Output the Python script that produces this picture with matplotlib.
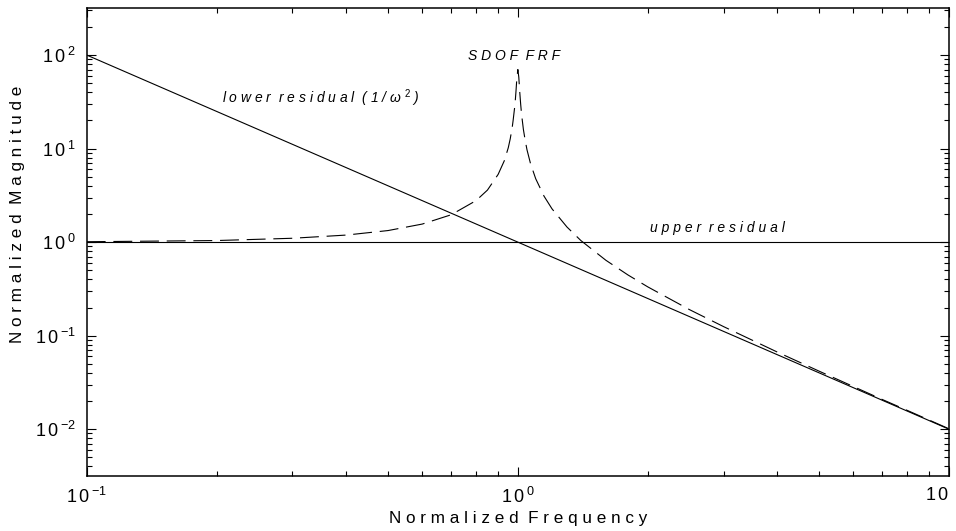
import matplotlib
matplotlib.use("Agg")
import matplotlib.pyplot as plt
from matplotlib.ticker import NullFormatter

plt.rcParams["font.family"] = ["Liberation Sans", "DejaVu Sans"]
plt.rcParams["mathtext.fontset"] = "custom"
plt.rcParams["mathtext.rm"] = "Liberation Sans"
plt.rcParams["mathtext.it"] = "Liberation Sans:italic"
plt.rcParams["mathtext.bf"] = "Liberation Sans:bold"

# SDOF FRF (dashed)
sdof_freq = [0.1, 0.2, 0.3, 0.4, 0.5, 0.6, 0.7, 0.8, 0.85, 0.9, 0.93, 0.95, 0.96,
             0.97, 0.975, 0.98, 0.985, 0.99, 0.995, 1.0, 1.005, 1.01, 1.015, 1.02,
             1.03, 1.04, 1.05, 1.07, 1.1, 1.15, 1.2, 1.3, 1.4, 1.6, 1.8, 2.0, 2.5,
             3.0, 4.0, 5.0, 6.0, 7.0, 8.0, 10.0]
sdof_mag = [1.01, 1.04, 1.10, 1.19, 1.33, 1.56, 1.96, 2.78, 3.6, 5.3, 7.4, 10.2, 12.7,
            16.7, 20.0, 24.5, 30.0, 41.0, 58.0, 70.0, 58.0, 40.5, 30.0, 23.2,
            16.0, 12.2, 9.7, 6.9, 4.76, 3.1, 2.27, 1.45, 1.04, 0.64, 0.446, 0.333, 0.19,
            0.125, 0.0667, 0.0417, 0.0286, 0.0208, 0.0159, 0.0101]

# residual lines
lower_freq = [0.1, 1.0, 10.0]
lower_mag = [100.0, 1.0, 0.01]
upper_freq = [0.1, 10.0]
upper_mag = [1.0, 1.0]

x_ticks = [0.1, 1.0, 10.0]
x_tick_labels = [r"$\mathregular{{1\,0\,}^{-1}}$", r"$\mathregular{{1\,0\,}^{0}}$",
                 r"$\mathregular{1\,0}$"]
y_ticks = [0.01, 0.1, 1.0, 10.0, 100.0]
y_tick_labels = [r"$\mathregular{{1\,0\,}^{-2}}$", r"$\mathregular{{1\,0\,}^{-1}}$",
                 r"$\mathregular{{1\,0\,}^{0}}$", r"$\mathregular{{1\,0\,}^{1}}$",
                 r"$\mathregular{{1\,0\,}^{2}}$"]

fig = plt.figure(figsize=(9.56, 5.31), dpi=100)
ax = fig.add_axes([0.0907, 0.1036, 0.902, 0.8808])
ax.set_xscale("log")
ax.set_yscale("log")

ax.plot(lower_freq, lower_mag, color="black", lw=0.8)
ax.plot(upper_freq, upper_mag, color="black", lw=0.8)
ax.plot(sdof_freq, sdof_mag, color="black", lw=0.8, dashes=(17, 7))

ax.set_xlim(0.1, 10)
ax.set_ylim(10 ** -2.5, 10 ** 2.5)

ax.set_xticks(x_ticks)
ax.set_xticklabels(x_tick_labels)
ax.set_yticks(y_ticks)
ax.set_yticklabels(y_tick_labels)
ax.xaxis.set_minor_formatter(NullFormatter())
ax.yaxis.set_minor_formatter(NullFormatter())
ax.get_xticklabels()[-1].set_horizontalalignment("right")

ax.tick_params(which="both", direction="in", top=True, right=True, width=0.8,
               labelsize=13)
ax.tick_params(which="major", length=6.5)
ax.tick_params(which="minor", length=3.5)
ax.tick_params(axis="x", pad=8)
ax.tick_params(axis="y", pad=8)
for sp in ax.spines.values():
    sp.set_linewidth(1.1)

ax.set_xlabel("N o r m a l i z e d  F r e q u e n c y", fontsize=12.3)
ax.set_ylabel("N o r m a l i z e d  M a g n i t u d e", fontsize=12.3)
ax.xaxis.set_label_coords(0.5, -0.075)
ax.yaxis.set_label_coords(-0.0716, 0.56)

ax.text(0.206, 34.7, "l o w e r  r e s i d u a l  ( 1 / ω $^{2}$ )", style="italic",
        fontsize=10, ha="left", va="center")
ax.text(0.982, 98, "S D O F  F R F", style="italic", fontsize=10,
        ha="center", va="center")
ax.text(2.9, 1.41, "u p p e r  r e s i d u a l", style="italic", fontsize=10,
        ha="center", va="center")

fig.savefig("out.png", dpi=100)
